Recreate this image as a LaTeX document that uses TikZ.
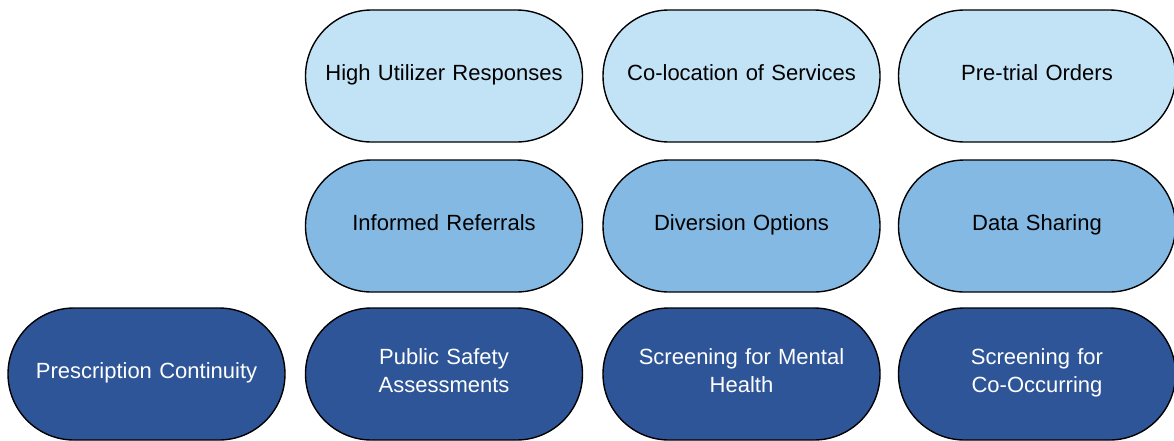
\documentclass[tikz,border=0pt]{standalone}
\usepackage{fontspec}
\setmainfont{Liberation Sans}
\usetikzlibrary{shapes.misc}

\definecolor{palefill}{HTML}{C2E3F6}
\definecolor{midfill}{HTML}{84B9E3}
\definecolor{deepfill}{HTML}{2E5597}

\newcommand{\pillstrut}{\rule[-9pt]{0pt}{27.8pt}}

\tikzset{
    pill/.style={rounded rectangle, draw=black, line width=1.4pt,
        minimum width=277pt, minimum height=132pt, inner sep=0pt,
        text width=260pt, align=center,
        font=\fontsize{22pt}{28pt}\selectfont,
        execute at begin node=\pillstrut, execute at end node=\pillstrut},
    palepill/.style={pill, fill=palefill, text=black},
    midpill/.style={pill, fill=midfill, text=black},
    deeppill/.style={pill, fill=deepfill, text=white}
}

\begin{document}
\begin{tikzpicture}[x=1pt,y=-1pt]
        \useasboundingbox (0,0) rectangle (1174,440);

        % top row
        \node[palepill] (utilizer) at (444,76) {High Utilizer Responses};
        \node[palepill] (colocation) at (741.5,76) {Co-location of Services};
        \node[palepill] (pretrial) at (1037,76) {Pre-trial Orders};

        % middle row
        \node[midpill] (referrals) at (444,226) {Informed Referrals};
        \node[midpill] (diversion) at (741.5,226) {Diversion Options};
        \node[midpill] (sharing) at (1037,226) {Data Sharing};

        % bottom row
        \node[deeppill] (prescription) at (146.5,374) {Prescription Continuity};
        \node[deeppill] (safety) at (444,374) {Public Safety\\Assessments};
        \node[deeppill] (mental) at (741.5,374) {Screening for Mental\\Health};
        \node[deeppill] (cooccur) at (1037,374) {Screening for\\Co-Occurring};
    \end{tikzpicture}
\end{document}
